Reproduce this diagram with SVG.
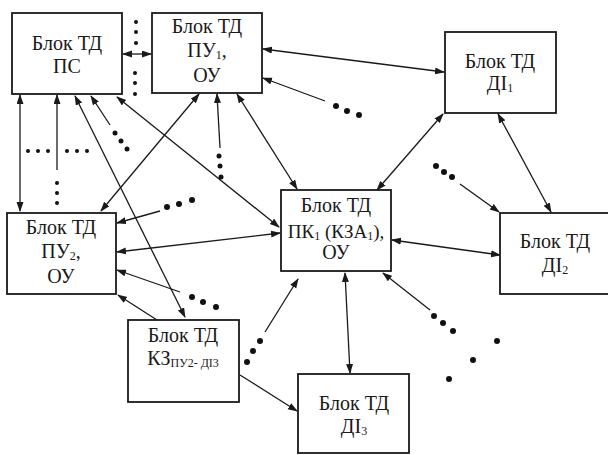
<svg xmlns="http://www.w3.org/2000/svg" width="608" height="455" viewBox="0 0 608 455">
<style>
.box{fill:#fff;stroke:#1a1a1a;stroke-width:1.8}
.t{font-family:"Liberation Serif","Times New Roman",serif;font-size:20px;fill:#1a1a1a;text-anchor:middle}
.sub{font-size:12px}
.ln{stroke:#1a1a1a;stroke-width:1.3;fill:none}
.a2{marker-start:url(#ah);marker-end:url(#ah)}
.a1{marker-end:url(#ah)}
.d{fill:#111}
</style>
<defs>
<marker id="ah" markerUnits="userSpaceOnUse" markerWidth="10" markerHeight="8" refX="9" refY="3.5" orient="auto-start-reverse">
<path d="M0,0 L10,3.5 L0,7 z" fill="#1a1a1a"/>
</marker>
</defs>
<rect width="608" height="455" fill="#fff"/>

<g id="connectors">
<line class="ln a2" x1="123" y1="54" x2="151" y2="54"/>
<line class="ln a2" x1="20" y1="95" x2="20" y2="211"/>
<line class="ln a1" x1="57" y1="170" x2="57" y2="95"/>
<line class="ln a2" x1="75" y1="96" x2="185" y2="317"/>
<line class="ln a1" x1="110" y1="125" x2="91" y2="96"/>
<line class="ln a2" x1="117" y1="97" x2="279" y2="227"/>
<line class="ln a2" x1="199" y1="94" x2="101" y2="211"/>
<line class="ln a1" x1="220" y1="148" x2="217" y2="94"/>
<line class="ln a2" x1="237" y1="94" x2="297" y2="189"/>
<line class="ln a2" x1="263" y1="49" x2="444" y2="72"/>
<line class="ln a1" x1="325" y1="101" x2="263" y2="78"/>
<line class="ln a2" x1="443" y1="114" x2="377" y2="190"/>
<line class="ln a2" x1="498" y1="114" x2="551" y2="212"/>
<line class="ln a1" x1="460" y1="184" x2="499" y2="212"/>
<line class="ln a2" x1="392" y1="240" x2="500" y2="255"/>
<line class="ln a1" x1="430" y1="310" x2="383" y2="273"/>
<line class="ln a2" x1="345" y1="273" x2="350" y2="373"/>
<line class="ln a1" x1="240" y1="375" x2="297" y2="411"/>
<line class="ln a1" x1="265" y1="332" x2="298" y2="279"/>
<line class="ln a1" x1="157" y1="320" x2="118" y2="295"/>
<line class="ln a1" x1="180" y1="292" x2="117" y2="270"/>
<line class="ln a2" x1="117" y1="252" x2="280" y2="233"/>
<line class="ln a1" x1="160" y1="211" x2="117" y2="223"/>
<g class="d">
<circle cx="136" cy="22" r="2"/><circle cx="136" cy="32" r="2"/><circle cx="136" cy="43" r="2"/>
<circle cx="135" cy="73" r="2"/><circle cx="135" cy="83" r="2"/><circle cx="135" cy="94" r="2"/>
<circle cx="28" cy="151" r="2"/><circle cx="38" cy="151" r="2"/><circle cx="48" cy="151" r="2"/>
<circle cx="67" cy="151" r="2"/><circle cx="77" cy="151" r="2"/><circle cx="87" cy="151" r="2"/>
<circle cx="57" cy="183" r="2"/><circle cx="57" cy="193" r="2"/><circle cx="57" cy="203" r="2"/>
<circle cx="115" cy="133" r="2.5"/><circle cx="121" cy="141" r="2.5"/><circle cx="127" cy="149" r="2.5"/>
<circle cx="219" cy="156" r="2.5"/><circle cx="220" cy="166" r="2.5"/><circle cx="221" cy="177" r="2.5"/>
<circle cx="336" cy="106" r="3"/><circle cx="347" cy="111" r="3"/><circle cx="359" cy="115" r="3"/>
<circle cx="436" cy="166" r="3"/><circle cx="444" cy="172" r="3"/><circle cx="452" cy="177" r="3"/>
<circle cx="434" cy="316" r="3"/><circle cx="443" cy="323" r="3"/><circle cx="453" cy="331" r="3"/>
<circle cx="497" cy="341" r="3"/><circle cx="473" cy="360" r="3"/><circle cx="449" cy="379" r="3"/>
<circle cx="260" cy="341" r="3"/><circle cx="253" cy="351" r="3"/><circle cx="247" cy="362" r="3"/>
<circle cx="192" cy="297" r="3"/><circle cx="203" cy="302" r="3"/><circle cx="216" cy="307" r="3"/>
<circle cx="167" cy="207" r="3"/><circle cx="179" cy="204" r="3"/><circle cx="192" cy="200" r="3"/>
</g>
</g>

<g id="ps">
<rect class="box" x="12" y="13" width="110" height="81"/>
<text class="t" x="67" y="50">Блок ТД</text>
<text class="t" x="67" y="73">ПС</text>
</g>
<g id="pu1">
<rect class="box" x="152" y="13" width="110" height="80"/>
<text class="t" x="207" y="33">Блок ТД</text>
<text class="t" x="207" y="57">ПУ<tspan class="sub" dy="2">1</tspan><tspan dy="-2">,</tspan></text>
<text class="t" x="207" y="82">ОУ</text>
</g>
<g id="di1">
<rect class="box" x="445" y="32" width="111" height="81"/>
<text class="t" x="500" y="68">Блок ТД</text>
<text class="t" x="500" y="90">ДІ<tspan class="sub" dy="2">1</tspan></text>
</g>
<g id="pk1">
<rect class="box" x="281" y="190" width="110" height="81"/>
<text class="t" x="336" y="212">Блок ТД</text>
<text class="t" x="336" y="238" style="font-size:19px">ПК<tspan class="sub" dy="2">1</tspan><tspan dy="-2"> (КЗА</tspan><tspan class="sub" dy="2">1</tspan><tspan dy="-2">),</tspan></text>
<text class="t" x="336" y="259">ОУ</text>
</g>
<g id="di2">
<rect class="box" x="500" y="213" width="112" height="81"/>
<text class="t" x="555" y="248">Блок ТД</text>
<text class="t" x="555" y="272">ДІ<tspan class="sub" dy="2">2</tspan></text>
</g>
<g id="pu2">
<rect class="box" x="7" y="213" width="109" height="81"/>
<text class="t" x="61" y="234">Блок ТД</text>
<text class="t" x="61" y="258">ПУ<tspan class="sub" dy="2">2</tspan><tspan dy="-2">,</tspan></text>
<text class="t" x="61" y="283">ОУ</text>
</g>
<g id="kz">
<rect class="box" x="128" y="320" width="111" height="82"/>
<text class="t" x="183" y="342">Блок ТД</text>
<text class="t" x="183" y="365">КЗ<tspan class="sub" dy="2">ПУ2- ДІ3</tspan></text>
</g>
<g id="di3">
<rect class="box" x="298" y="374" width="111" height="79"/>
<text class="t" x="354" y="410">Блок ТД</text>
<text class="t" x="354" y="433">ДІ<tspan class="sub" dy="2">3</tspan></text>
</g>
</svg>
